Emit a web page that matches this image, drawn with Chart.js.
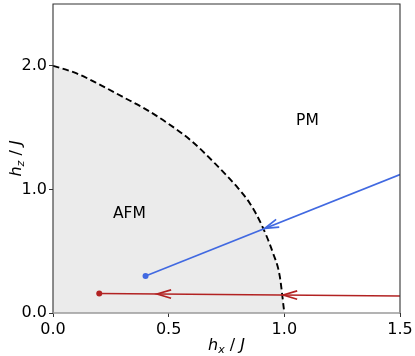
<!DOCTYPE html>
<html>
<head>
<meta charset="utf-8">
<script src="https://cdn.jsdelivr.net/npm/chart.js@4.4.0/dist/chart.umd.min.js"></script>
<style>
  html, body { margin:0; padding:0; background:#fff; }
  #wrap { width:415px; height:356px; }
</style>
</head>
<body>
<div id="wrap"><canvas id="chart"></canvas></div>
<script>
// phase boundary (hx, hz)
const boundaryHx = [0, 0.1, 0.2, 0.3, 0.4, 0.5, 0.6, 0.7, 0.8, 0.85, 0.9, 0.95, 0.98, 1.0];
const boundaryHz = [2.0, 1.94, 1.85, 1.75, 1.65, 1.53, 1.39, 1.21, 1.01, 0.89, 0.72, 0.49, 0.30, 0.0];

// trajectories: first point is the dot
const blueHx = [0.4, 1.5];
const blueHz = [0.3, 1.12];
const redHx = [0.2, 1.5];
const redHz = [0.158, 0.138];

// arrow tips along each trajectory (hx)
const blueArrowHx = [0.915];
const redArrowHx = [0.45, 0.995];

const xTicks = [0.0, 0.5, 1.0, 1.5];
const yTicks = [0.0, 1.0, 2.0];

const phaseNames = ["AFM", "PM"];
const phaseHx = [0.33, 1.1];
const phaseHz = [0.8, 1.55];

const BLUE = "#4169e1";
const RED = "#b22222";
const FONT = "DejaVu Sans";

const $ = (id) => document.getElementById(id);
const pts = (xs, ys) => xs.map((x,i)=>({x, y: ys[i]}));

function lineAt(xs, ys, x){
  const t = (x - xs[0]) / (xs[1] - xs[0]);
  return ys[0] + t * (ys[1] - ys[0]);
}

function drawArrow(ctx, tipX, tipY, fromX, fromY, color){
  // head points from (fromX,fromY) toward tip
  const a = Math.atan2(tipY - fromY, tipX - fromX);
  const len = 14, half = 4.2;
  ctx.save();
  ctx.translate(tipX, tipY);
  ctx.rotate(a);
  ctx.strokeStyle = color;
  ctx.lineWidth = 1.7;
  ctx.lineJoin = "miter";
  ctx.beginPath();
  ctx.moveTo(-len, -half);
  ctx.lineTo(0, 0);
  ctx.lineTo(-len, half);
  ctx.stroke();
  ctx.restore();
}

// h_sub / J  drawn like matplotlib mathtext
function mathLabel(ctx, cx, cy, sub){
  const size = 16;
  const fMain = `italic ${size}px "${FONT}"`;
  const fSub = `italic ${Math.round(size*0.7)}px "${FONT}"`;
  const fPlain = `${size}px "${FONT}"`;
  ctx.font = fMain; const wh = ctx.measureText("h").width;
  ctx.font = fSub; const ws = ctx.measureText(sub).width;
  ctx.font = fPlain; const wm = ctx.measureText(" / ").width;
  ctx.font = fMain; const wj = ctx.measureText("J").width;
  const total = wh + ws + wm + wj;
  let x = cx - total/2;
  const base = cy + size*0.36;
  ctx.textAlign = "left";
  ctx.textBaseline = "alphabetic";
  ctx.fillStyle = "#000";
  ctx.font = fMain; ctx.fillText("h", x, base); x += wh;
  ctx.font = fSub; ctx.fillText(sub, x, base + size*0.22); x += ws;
  ctx.font = fPlain; ctx.fillText(" / ", x, base); x += wm;
  ctx.font = fMain; ctx.fillText("J", x, base);
}

const decor = {
  id: "decor",
  afterDatasetsDraw(chart){
    const {ctx, chartArea: ca, scales: {x, y}} = chart;
    ctx.save();
    ctx.beginPath();
    ctx.rect(ca.left, ca.top, ca.right - ca.left, ca.bottom - ca.top);
    ctx.clip();
    const sets = [
      {xs: blueHx, ys: blueHz, arrows: blueArrowHx, color: BLUE},
      {xs: redHx, ys: redHz, arrows: redArrowHx, color: RED},
    ];
    sets.forEach(s=>{
      const fx = x.getPixelForValue(s.xs[1]), fy = y.getPixelForValue(s.ys[1]);
      s.arrows.forEach(h=>{
        const tx = x.getPixelForValue(h), ty = y.getPixelForValue(lineAt(s.xs, s.ys, h));
        drawArrow(ctx, tx, ty, fx, fy, s.color);
      });
    });
    ctx.restore();

    // region names
    ctx.save();
    ctx.font = `15.5px "${FONT}"`;
    ctx.fillStyle = "#000";
    ctx.textAlign = "center";
    ctx.textBaseline = "middle";
    phaseNames.forEach((n,i)=>{
      ctx.fillText(n, x.getPixelForValue(phaseHx[i]), y.getPixelForValue(phaseHz[i]));
    });
    ctx.restore();
  },
  afterDraw(chart){
    const {ctx, chartArea: ca} = chart;
    ctx.save();
    // spines
    ctx.lineWidth = 1.1;
    ctx.strokeStyle = "#333";
    ctx.beginPath();
    ctx.moveTo(ca.left, ca.bottom + 1);
    ctx.lineTo(ca.left, ca.top);
    ctx.lineTo(ca.right, ca.top);
    ctx.lineTo(ca.right, ca.bottom + 1);
    ctx.stroke();
    ctx.strokeStyle = "#9a9a9a";
    ctx.lineWidth = 1.6;
    ctx.beginPath();
    ctx.moveTo(ca.left, ca.bottom);
    ctx.lineTo(ca.right, ca.bottom);
    ctx.stroke();

    // axis titles
    mathLabel(ctx, (ca.left + ca.right)/2, 344, "x");
    ctx.translate(15, (ca.top + ca.bottom)/2);
    ctx.rotate(-Math.PI/2);
    mathLabel(ctx, 0, 0, "z");
    ctx.restore();
  }
};

function buildChart(){
  const ctx = $("chart").getContext("2d");
  const tickFont = {family: FONT, size: 16};
  const grid = {display: true, drawOnChartArea: false, drawTicks: true, tickLength: 4, color: "#333", lineWidth: 1};
  return new Chart(ctx, {
    type: "scatter",
    data: {
      datasets: [
        { label: "blue", data: pts(blueHx, blueHz), showLine: true, borderColor: BLUE, borderWidth: 1.6,
          pointRadius: [3, 0], pointBackgroundColor: BLUE, pointBorderWidth: 0 },
        { label: "red", data: pts(redHx, redHz), showLine: true, borderColor: RED, borderWidth: 1.6,
          pointRadius: [3, 0], pointBackgroundColor: RED, pointBorderWidth: 0 },
        { label: "boundary", data: pts(boundaryHx, boundaryHz), showLine: true, borderColor: "#000",
          borderWidth: 1.9, borderDash: [6.5, 3.5], pointRadius: 0, cubicInterpolationMode: "monotone",
          fill: "origin", backgroundColor: "#ebebeb" },
      ]
    },
    options: {
      responsive: true,
      maintainAspectRatio: false,
      animation: false,
      layout: { padding: {top: 1, right: 15, left: 0, bottom: 0} },
      plugins: { legend: {display: false}, tooltip: {enabled: false} },
      scales: {
        x: {
          type: "linear", min: 0, max: 1.5,
          afterBuildTicks: (s)=>{ s.ticks = xTicks.map(v=>({value: v})); },
          afterFit: (s)=>{ s.height = 43; s.paddingLeft = 0; s.paddingRight = 0; },
          ticks: { font: tickFont, color: "#000", padding: 3, maxRotation: 0, callback: (v)=>v.toFixed(1) },
          grid, border: {display: false}
        },
        y: {
          type: "linear", min: 0, max: 2.5,
          afterBuildTicks: (s)=>{ s.ticks = yTicks.map(v=>({value: v})); },
          afterFit: (s)=>{ s.width = 53; s.paddingTop = 0; s.paddingBottom = 0; },
          ticks: { font: tickFont, color: "#000", padding: 2, callback: (v)=>v.toFixed(1) },
          grid, border: {display: false}
        }
      }
    },
    plugins: [decor]
  });
}

buildChart();
</script>
</body>
</html>
